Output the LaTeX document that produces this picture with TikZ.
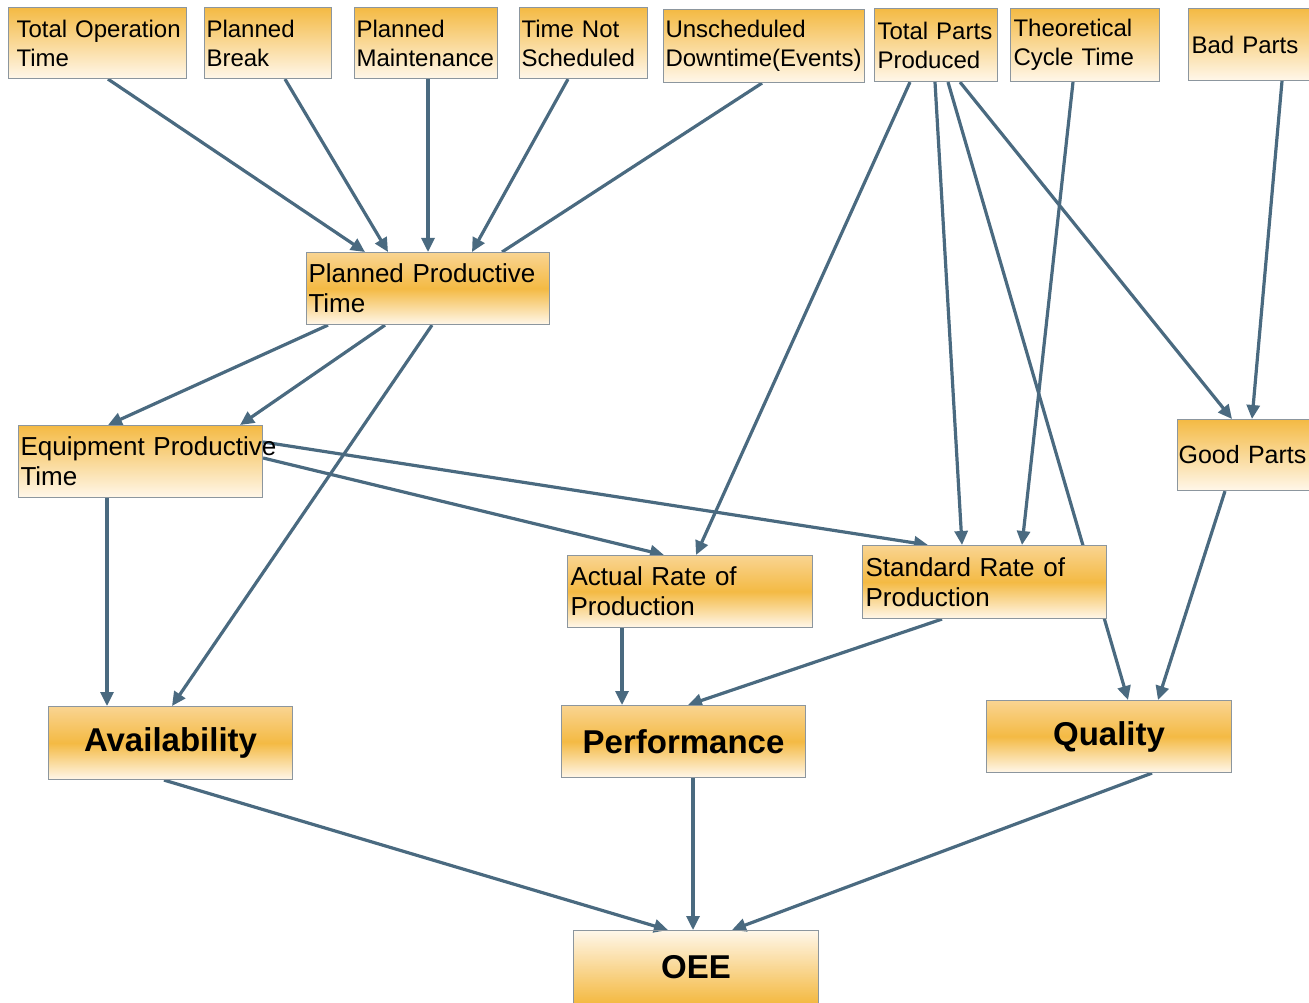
\documentclass[tikz,border=0pt]{standalone}
\usepackage{fontspec}
\setmainfont{Liberation Sans}
\usetikzlibrary{arrows.meta,calc,backgrounds}
\definecolor{org}{RGB}{244,186,68}
\definecolor{lite}{RGB}{255,247,234}
\definecolor{midl}{RGB}{249,212,145}
\definecolor{conn}{RGB}{74,106,128}
\definecolor{bord}{RGB}{140,150,158}
\begin{document}
\begin{tikzpicture}[x=1pt,y=-1pt,
  basebox/.style={draw=bord, line width=1.1pt, anchor=north west, inner ysep=0pt, align=left},
  topbox/.style={basebox, top color=org, bottom color=lite, font=\fontsize{24}{29}\selectfont},
  midbox/.style={basebox, top color=midl, bottom color=lite, middle color=org, font=\fontsize{26}{30}\selectfont},
  fadebox/.style={basebox, top color=org, bottom color=lite, font=\fontsize{26}{30}\selectfont},
  bigbox/.style={draw=bord, line width=1.1pt, anchor=north west, inner sep=0pt, align=center, top color=midl, bottom color=lite, middle color=org, font=\fontsize{33}{38}\selectfont\bfseries},
  oeebox/.style={draw=bord, line width=1.1pt, anchor=north west, inner sep=0pt, align=center, font=\fontsize{33}{38}\selectfont\bfseries},
  conn/.style={draw=conn, line width=3.2pt, -{Triangle[length=14pt,width=13pt]}},
  plain/.style={draw=conn, line width=3.2pt}
]
\useasboundingbox (0,0) rectangle (1309,1003);
% top row
\node[topbox, inner xsep=8pt, minimum width=178pt, minimum height=71pt, text width=162pt] (tot) at (8,7) {\mbox{Total Operation}\\Time};
\node[topbox, inner xsep=2pt, minimum width=127pt, minimum height=71pt, text width=123pt] (pbr) at (204,7) {Planned\\Break};
\node[topbox, inner xsep=2pt, minimum width=143pt, minimum height=71pt, text width=139pt] (pmt) at (354,7) {Planned\\Maintenance};
\node[topbox, inner xsep=2pt, minimum width=128pt, minimum height=71pt, text width=124pt] (tns) at (519,7) {\mbox{Time Not}\\Scheduled};
\node[topbox, inner xsep=2pt, minimum width=201pt, minimum height=73pt, text width=197pt] (uns) at (663,9) {Unscheduled\\\mbox{Downtime(Events)}};
\node[topbox, inner xsep=3pt, minimum width=123pt, minimum height=73pt, text width=117pt] (tpp) at (874,8) {\mbox{Total Parts}\\Produced};
\node[topbox, inner xsep=3pt, minimum width=149pt, minimum height=73pt, text width=143pt] (tct) at (1010,8) {Theoretical\\\mbox{Cycle Time}};
\node[topbox, inner xsep=3pt, minimum width=121pt, minimum height=72pt, text width=115pt] (bad) at (1188,8) {\mbox{Bad Parts}};
% middle
\node[midbox, inner xsep=2pt, minimum width=243pt, minimum height=72pt, text width=239pt] (ppt) at (306,252) {\mbox{Planned Productive}\\Time};
\node[fadebox, inner xsep=2pt, minimum width=244pt, minimum height=72pt, text width=240pt] (ept) at (18,425) {\mbox{Equipment Productive}\\Time};
\node[fadebox, inner xsep=1pt, minimum width=132pt, minimum height=71pt, text width=130pt, font=\fontsize{25}{30}\selectfont] (good) at (1177,419) {\mbox{Good Parts}};
\node[midbox, inner xsep=3pt, minimum width=245pt, minimum height=72pt, text width=239pt] (arp) at (567,555) {\mbox{Actual Rate of}\\Production};
\node[midbox, inner xsep=3pt, minimum width=244pt, minimum height=73pt, text width=238pt] (srp) at (862,545) {\mbox{Standard Rate of}\\Production};
% bottom
\node[bigbox, minimum width=244pt, minimum height=73pt] (avail) at (48,706) {Availability};
\node[bigbox, minimum width=244pt, minimum height=72pt] (perf) at (561,705) {Performance};
\node[bigbox, minimum width=245pt, minimum height=72pt] (qual) at (986,700) {Quality};
\node[oeebox, minimum width=245pt, minimum height=73pt] (oee) at (573,930) {OEE};
% connectors and OEE fill
\begin{scope}[on background layer]
\foreach \i in {0,...,72}{
  \pgfmathtruncatemacro{\p}{\i*100/72}
  \fill[org!\p!lite] ($(oee.north west)+(0,\i)$) rectangle ($(oee.north east)+(0,\i+1.3)$);
}
\draw[conn] ($(tot.south west)+(100,0)$) -- ($(ppt.north west)+(59,0)$);
\draw[conn] ($(pbr.south west)+(81,0)$) -- ($(ppt.north west)+(82,0)$);
\draw[conn] ($(pmt.south west)+(74,0)$) -- ($(ppt.north west)+(122,0)$);
\draw[conn] ($(tns.south west)+(49,0)$) -- ($(ppt.north west)+(166,0)$);
\draw[plain] ($(uns.south west)+(99,0)$) -- ($(ppt.north west)+(196,0)$);
\draw[conn] ($(ppt.south west)+(22,0)$) -- ($(ept.north west)+(90,0)$);
\draw[conn] ($(ppt.south west)+(79,0)$) -- ($(ept.north west)+(222,0)$);
\draw[conn] ($(ppt.south west)+(126,0)$) -- ($(avail.north west)+(124,0)$);
\draw[conn] ($(ept.south west)+(89,0)$) -- ($(avail.north west)+(59,0)$);
\draw[conn] ($(ept.north east)+(0,17)$) -- ($(srp.north west)+(66,0)$);
\draw[conn] ($(ept.north east)+(0,33)$) -- ($(arp.north west)+(97,0)$);
\draw[conn] ($(tpp.south west)+(36,0)$) -- ($(arp.north west)+(129,0)$);
\draw[conn] ($(tpp.south west)+(61,0)$) -- ($(srp.north west)+(100,0)$);
\draw[conn] ($(tpp.south west)+(74,0)$) -- ($(qual.north west)+(142,0)$);
\draw[conn] ($(tpp.south west)+(86,0)$) -- ($(good.north west)+(55,0)$);
\draw[conn] ($(tct.south west)+(63,0)$) -- ($(srp.north west)+(160,0)$);
\draw[conn] ($(bad.south west)+(94,0)$) -- ($(good.north west)+(75,0)$);
\draw[conn] ($(good.south west)+(48,0)$) -- ($(qual.north west)+(172,0)$);
\draw[conn] ($(arp.south west)+(55,0)$) -- ($(perf.north west)+(61,0)$);
\draw[conn] ($(srp.south west)+(80,0)$) -- ($(perf.north west)+(127,0)$);
\draw[conn] ($(avail.south west)+(116,0)$) -- ($(oee.north west)+(95,0)$);
\draw[conn] ($(perf.south west)+(132,0)$) -- ($(oee.north west)+(120,0)$);
\draw[conn] ($(qual.south west)+(166,0)$) -- ($(oee.north west)+(159,0)$);
\end{scope}
\end{tikzpicture}
\end{document}
